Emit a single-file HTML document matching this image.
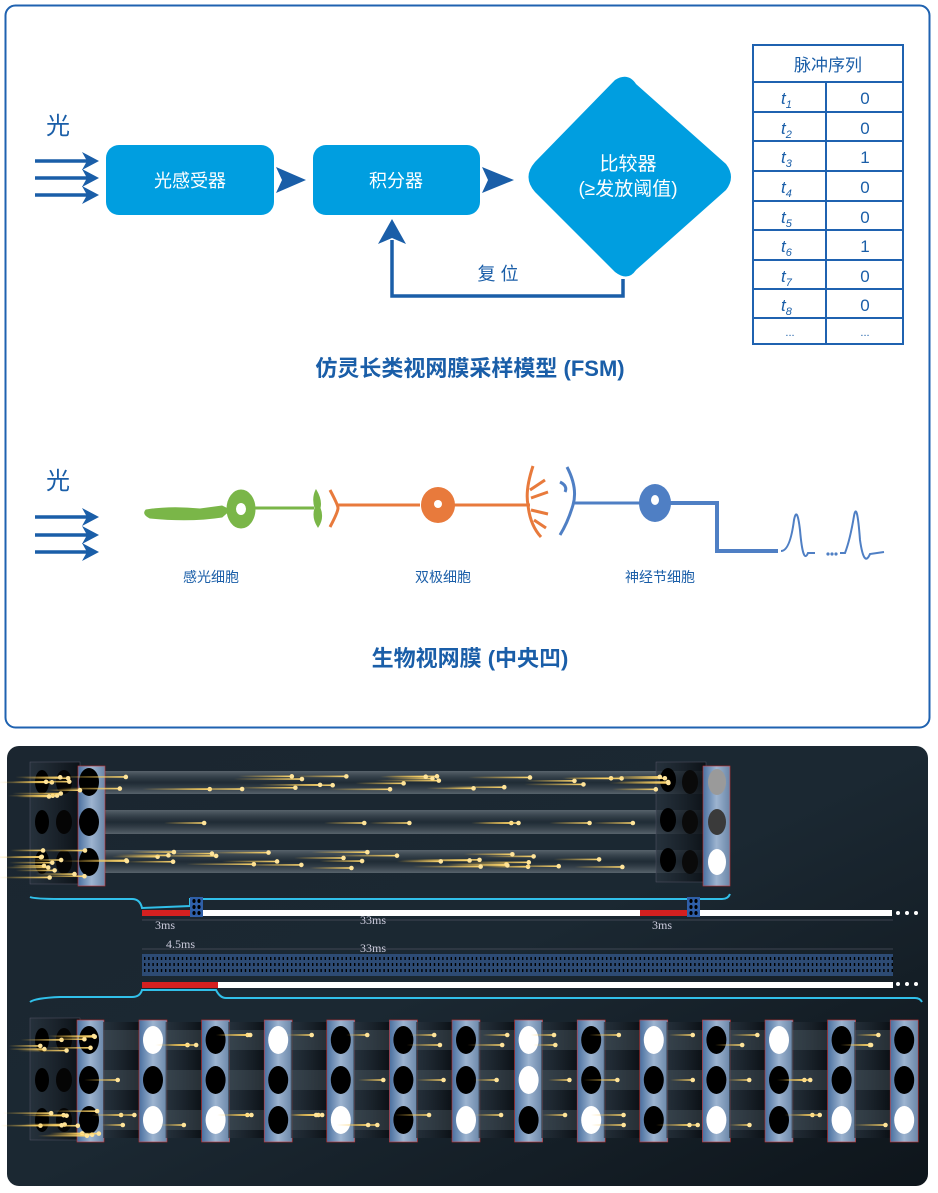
<!DOCTYPE html>
<html><head><meta charset="utf-8"><style>
html,body{margin:0;padding:0;background:#fff;width:938px;height:1193px;overflow:hidden}
svg{display:block}
text{font-family:"Liberation Sans","Noto Sans CJK SC",sans-serif}
text.serif{font-family:"Liberation Serif",serif}
</style></head><body>
<svg id="s" width="938" height="1193" viewBox="0 0 938 1193" xmlns="http://www.w3.org/2000/svg">
<defs>
<linearGradient id="bg" x1="0" y1="0" x2="1" y2="1"><stop offset="0" stop-color="#1b2630"/><stop offset="0.5" stop-color="#1b2832"/><stop offset="1" stop-color="#0e151b"/></linearGradient>
<linearGradient id="tube" x1="0" y1="0" x2="0" y2="1"><stop offset="0" stop-color="#8a949c" stop-opacity=".55"/><stop offset=".5" stop-color="#2c3740" stop-opacity=".3"/><stop offset="1" stop-color="#8a949c" stop-opacity=".55"/></linearGradient>
<linearGradient id="pan" x1="0" y1="0" x2="1" y2="0"><stop offset="0" stop-color="#4a70a0"/><stop offset=".5" stop-color="#9db4d0"/><stop offset="1" stop-color="#6a86a8"/></linearGradient>
<linearGradient id="back" x1="0" y1="0" x2="1" y2="0"><stop offset="0" stop-color="#2a3540" stop-opacity=".7"/><stop offset="1" stop-color="#0a0f14" stop-opacity=".9"/></linearGradient>
<linearGradient id="pt" x1="0" y1="0" x2="1" y2="0"><stop offset="0" stop-color="#f5c040" stop-opacity="0"/><stop offset="1" stop-color="#ffd870"/></linearGradient>
</defs>
<rect x="5.5" y="5.5" width="924" height="722" rx="10" fill="#fff" stroke="#1f62b0" stroke-width="2"/>
<text x="58" y="134" font-size="24" fill="#1a5ea8" text-anchor="middle">光</text>
<g stroke="#1a5ea8" stroke-width="3.5" fill="#1a5ea8">
<line x1="35" y1="161" x2="90" y2="161"/><line x1="35" y1="178" x2="90" y2="178"/><line x1="35" y1="195" x2="90" y2="195"/>
</g>
<g fill="#1a5ea8">
<path d="M82 152 L99 161 L82 170 L87 161Z"/><path d="M82 169 L99 178 L82 187 L87 178Z"/><path d="M82 186 L99 195 L82 204 L87 195Z"/>
<path d="M276 167 L306 180 L276 193 L282 180Z"/><path d="M482 167 L514 180 L482 193 L488 180Z"/>
<path d="M392 219 L406 244 L392 238 L378 244Z"/>
</g>
<rect x="106" y="145" width="168" height="70" rx="13" fill="#009ee0"/>
<rect x="313" y="145" width="167" height="70" rx="13" fill="#009ee0"/>
<text x="190" y="187" font-size="18" fill="#fff" text-anchor="middle">光感受器</text>
<text x="396" y="187" font-size="18" fill="#fff" text-anchor="middle">积分器</text>
<path d="M615 80 Q628 72 636 84 L726 164 Q736 177 726 190 L636 270 Q628 282 615 272 L535 192 Q522 177 535 162 Z" fill="#009ee0"/>
<text x="628" y="170" font-size="19" fill="#fff" text-anchor="middle">比较器</text>
<text x="628" y="195" font-size="19" fill="#fff" text-anchor="middle">(≥发放阈值)</text>
<polyline points="623,279 623,296 392,296 392,240" fill="none" stroke="#1a5ea8" stroke-width="3.5"/>
<text x="498" y="280" font-size="18" fill="#1a5ea8" text-anchor="middle">复 位</text>
<g stroke="#1f62b0" stroke-width="2" fill="none">
<rect x="753" y="45" width="150" height="299"/>
<line x1="826" y1="82" x2="826" y2="344"/>
<line x1="753" y1="82" x2="903" y2="82"/><line x1="753" y1="112" x2="903" y2="112"/><line x1="753" y1="141" x2="903" y2="141"/><line x1="753" y1="171" x2="903" y2="171"/><line x1="753" y1="201" x2="903" y2="201"/><line x1="753" y1="230" x2="903" y2="230"/><line x1="753" y1="260" x2="903" y2="260"/><line x1="753" y1="289" x2="903" y2="289"/><line x1="753" y1="318" x2="903" y2="318"/>
</g>
<g font-size="17" fill="#1a5ea8" text-anchor="middle">
<text x="828" y="71">脉冲序列</text>
<text x="865" y="104">0</text><text x="865" y="134">0</text><text x="865" y="163">1</text><text x="865" y="193">0</text><text x="865" y="223">0</text><text x="865" y="252">1</text><text x="865" y="282">0</text><text x="865" y="311">0</text>
<text x="865" y="336" font-size="11">...</text><text x="790" y="336" font-size="11">...</text>
</g>
<g font-size="17" fill="#1a5ea8" font-style="italic">
<text x="781" y="104">t<tspan font-size="11" dy="4">1</tspan></text>
<text x="781" y="134">t<tspan font-size="11" dy="4">2</tspan></text>
<text x="781" y="163">t<tspan font-size="11" dy="4">3</tspan></text>
<text x="781" y="193">t<tspan font-size="11" dy="4">4</tspan></text>
<text x="781" y="223">t<tspan font-size="11" dy="4">5</tspan></text>
<text x="781" y="252">t<tspan font-size="11" dy="4">6</tspan></text>
<text x="781" y="282">t<tspan font-size="11" dy="4">7</tspan></text>
<text x="781" y="311">t<tspan font-size="11" dy="4">8</tspan></text>
</g>
<text x="470" y="376" font-size="22" font-weight="bold" fill="#1a5ea8" text-anchor="middle">仿灵长类视网膜采样模型 (FSM)</text>
<text x="58" y="489" font-size="24" fill="#1a5ea8" text-anchor="middle">光</text>
<g stroke="#1a5ea8" stroke-width="3.5"><line x1="35" y1="517" x2="90" y2="517"/><line x1="35" y1="535" x2="90" y2="535"/><line x1="35" y1="552" x2="90" y2="552"/></g>
<g fill="#1a5ea8"><path d="M82 508 L99 517 L82 526 L87 517Z"/><path d="M82 526 L99 535 L82 544 L87 535Z"/><path d="M82 543 L99 552 L82 561 L87 552Z"/></g>
<g fill="#7ab648" stroke="#7ab648">
<path d="M146 510 Q170 506 200 509 L222 506 L230 510 L222 517 Q190 522 150 518 Q142 514 146 510Z"/>
<ellipse cx="241" cy="509" rx="14" ry="19"/>
<line x1="254" y1="508" x2="314" y2="508" stroke-width="3"/>
<path d="M316 490 Q322 500 320 508 Q324 518 318 527 Q312 518 315 508 Q312 498 316 490Z"/>
</g>
<ellipse cx="241" cy="509" rx="5" ry="6" fill="#fff"/>
<g stroke="#e87a3c" stroke-width="3" fill="none">
<path d="M330 490 Q338 505 338 508 Q338 512 330 527"/>
<line x1="338" y1="505" x2="420" y2="505"/><line x1="450" y1="505" x2="530" y2="505"/>
<path d="M533 466 Q525 490 528 505 Q530 525 541 537"/>
<path d="M530 490 L545 480 M531 498 L548 492 M531 510 L548 514 M534 520 L546 528"/>
</g>
<ellipse cx="438" cy="505" rx="17" ry="18" fill="#e87a3c"/><circle cx="438" cy="504" r="4" fill="#fff"/>
<g stroke="#4f7fc4" stroke-width="3" fill="none">
<path d="M567 467 Q578 488 573 505 Q568 522 560 535"/>
<path d="M560 482 Q568 486 565 492"/>
<line x1="573" y1="503" x2="640" y2="503"/>
<polyline points="668,503 717,503 717,551 778,551" stroke-width="4"/>
<path d="M781 551 Q790 551 794 520 Q797 505 800 530 Q803 565 808 553 L815 553 M840 553 L845 553 Q850 540 854 516 Q857 500 860 540 Q864 568 870 554 L884 552" stroke-width="2"/>
</g>
<g fill="#4f7fc4"><circle cx="828" cy="554" r="1.6"/><circle cx="832" cy="554" r="1.6"/><circle cx="836" cy="554" r="1.6"/></g>
<ellipse cx="655" cy="503" rx="16" ry="19" fill="#4f7fc4"/><ellipse cx="655" cy="500" rx="4" ry="5" fill="#fff"/>
<g font-size="14" fill="#1a5ea8" text-anchor="middle"><text x="211" y="582">感光细胞</text><text x="443" y="582">双极细胞</text><text x="660" y="582">神经节细胞</text></g>
<text x="470" y="666" font-size="22" font-weight="bold" fill="#1a5ea8" text-anchor="middle">生物视网膜 (中央凹)</text>
<rect x="7" y="746" width="921" height="440" rx="12" fill="url(#bg)"/>
<g id="dyn"></g>
<g font-size="12" fill="#ccd"><text class="serif" x="155" y="929">3ms</text><text class="serif" x="360" y="924">33ms</text><text class="serif" x="652" y="929">3ms</text><text class="serif" x="166" y="948">4.5ms</text><text class="serif" x="360" y="952">33ms</text></g>
</svg>
<script>
var g=document.getElementById("dyn"),h="";
function R(x,y,w,hh,f,extra){h+='<rect x="'+x+'" y="'+y+'" width="'+w+'" height="'+hh+'" fill="'+f+'" '+(extra||'')+'/>';}
function E(cx,cy,rx,ry,f){h+='<ellipse cx="'+cx+'" cy="'+cy+'" rx="'+rx+'" ry="'+ry+'" fill="'+f+'"/>';}
function P(x,y,l){h+='<rect x="'+(x-l)+'" y="'+(y-0.8)+'" width="'+l+'" height="1.6" fill="url(#pt)"/><circle cx="'+x+'" cy="'+y+'" r="2.3" fill="#ffe49a"/>';}
var seed=3;function rnd(){seed=(seed*9301+49297)%233280;return seed/233280;}
[[771,794],[810,834],[850,873]].forEach(function(t){R(100,t[0],610,t[1]-t[0],"url(#tube)");});
R(30,762,50,122,"url(#back)",'stroke="#556" stroke-width="0.5"');
R(78,766,27,120,"url(#pan)",'stroke="#c33" stroke-width="0.6"');
[782,822,862].forEach(function(y){E(42,y,7,12,'#000');E(64,y,8,12,'#050505');E(89,y,10,14,'#000');});
R(656,762,50,120,"url(#back)",'stroke="#556" stroke-width="0.5"');
R(703,766,27,120,"url(#pan)",'stroke="#c33" stroke-width="0.6"');
E(717,782,9,13,'#9a9a9a');E(717,822,9,13,'#3a3a3a');E(717,862,9,13,'#fff');
[780,820,860].forEach(function(y){E(668,y,8,12,'#000');E(690,y+2,8,12,'#0a0a0a');});
for(var i=0;i<28;i++)P(110+rnd()*580,776+rnd()*14,40+rnd()*30);
for(var i=0;i<7;i++)P(110+rnd()*580,823,40);
for(var i=0;i<30;i++)P(110+rnd()*580,852+rnd()*16,40+rnd()*30);
for(var i=0;i<22;i++){var yy=[775,790,850,860,870][i%5]+rnd()*8;P(40+rnd()*60,yy,30+rnd()*25);}
h+='<path d="M30 897 Q35 899 60 899 L132 899 Q140 899 142 908 L190 906 L190 899 L722 899 Q728 899 730 894" fill="none" stroke="#31c0ea" stroke-width="2"/>';
R(142,910,50,6,"#d42020");R(192,910,700,6,"#fff");R(640,910,48,6,"#d42020");
h+='<line x1="142" y1="920" x2="893" y2="920" stroke="#667" stroke-width="0.6"/>';
[[190,897],[687,897]].forEach(function(b){R(b[0],b[1],13,20,"#2f5fa8");for(var r=0;r<3;r++)for(var c=0;c<2;c++)E(b[0]+4+c*5,b[1]+4+r*6,1.6,2,'#000');});
[898,907,916].forEach(function(x){h+='<circle cx="'+x+'" cy="913" r="2" fill="#fff"/>';});
h+='<line x1="142" y1="949" x2="893" y2="949" stroke="#667" stroke-width="0.6"/>';
R(142,954,751,22,"#2d4b74");
for(var x=144;x<892;x+=4.2){h+='<rect x="'+x+'" y="957" width="1.4" height="3" fill="#000"/><rect x="'+x+'" y="963" width="1.4" height="3" fill="#000"/><rect x="'+x+'" y="969" width="1.4" height="3" fill="#000"/>';}
R(142,982,76,6,"#d42020");R(218,982,675,6,"#fff");
[898,907,916].forEach(function(x){h+='<circle cx="'+x+'" cy="984" r="2" fill="#fff"/>';});
h+='<path d="M30 1002 Q35 998 60 997 L132 997 Q140 997 142 990 L216 990 Q220 998 226 998 L915 998 Q920 998 922 1002" fill="none" stroke="#31c0ea" stroke-width="2"/>';
var r1=[1,0,1,0,0,0,1,0,1,0,1,0,0],r2=[0,0,0,0,0,0,1,0,0,0,0,0,0],r3=[1,1,0,1,0,1,0,1,0,1,0,1,1];
R(30,1018,50,122,"url(#back)",'stroke="#556" stroke-width="0.5"');
R(77,1020,27,122,"url(#pan)",'stroke="#c33" stroke-width="0.6"');
[1040,1080,1120].forEach(function(y){E(42,y,7,12,'#000');E(64,y,8,12,'#050505');E(89,y,10,14,'#000');});
for(var k=0;k<13;k++){var x=139+k*62.6;
 R(x-36,1022,36,116,"url(#back)");
 [1030,1070,1110].forEach(function(y){R(x-36,y,36,20,"#5a6670",'opacity="0.35"');});
 R(x,1020,28,122,"url(#pan)",'stroke="#c33" stroke-width="0.6"');
 E(x+14,1040,10,14,r1[k]?'#fff':'#000');E(x+14,1080,10,14,r2[k]?'#fff':'#000');E(x+14,1120,10,14,r3[k]?'#fff':'#000');
 for(var j=0;j<4;j++)P(x-4-rnd()*20,[1035,1045,1080,1115,1125][Math.floor(rnd()*5)],20+rnd()*15);
}
for(var i=0;i<20;i++)P(40+rnd()*60,[1035,1045,1110,1120,1130][i%5]+rnd()*6,30+rnd()*20);
g.innerHTML=h;
</script>
</body></html>
